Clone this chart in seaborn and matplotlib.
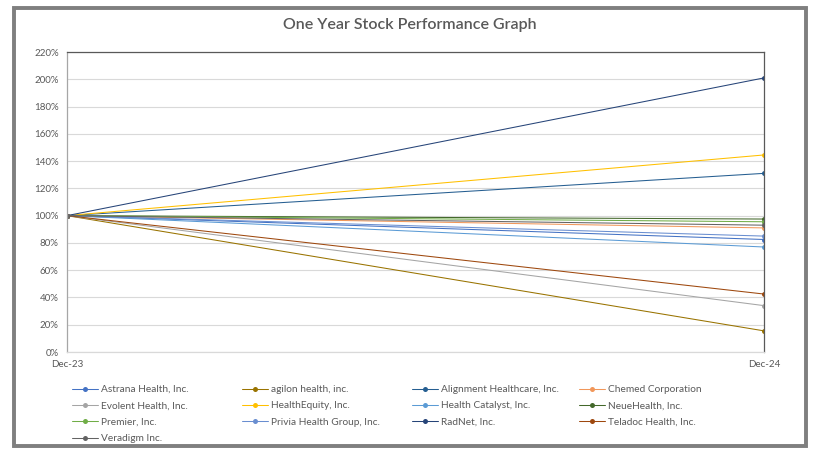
"""
One year stock performance graph (Dec-23 -> Dec-24), Excel-like look.
"""

import matplotlib
matplotlib.use('Agg')
import matplotlib.pyplot as plt
from matplotlib.lines import Line2D
from matplotlib.patches import Rectangle
import matplotlib.ticker as mticker
import pandas as pd
import seaborn as sns

# data (percent of Dec-23 value)
companies = ['Astrana Health, Inc.', 'agilon health, inc.', 'Alignment Healthcare, Inc.',
             'Chemed Corporation', 'Evolent Health, Inc.', 'HealthEquity, Inc.',
             'Health Catalyst, Inc.', 'NeueHealth, Inc.', 'Premier, Inc.',
             'Privia Health Group, Inc.', 'RadNet, Inc.', 'Teladoc Health, Inc.',
             'Veradigm Inc.']
dates = ['Dec-23', 'Dec-24']
start_vals = [100] * len(companies)
end_vals = [82.5, 15.5, 131, 91, 34, 144.5, 77, 97.5, 95.5, 85, 201, 42.5, 93]
colors = ['#4472C4', '#997300', '#255E91', '#F1975A', '#A5A5A5', '#FFC000',
          '#5B9BD5', '#43682B', '#70AD47', '#698ED0', '#264478', '#9E480E',
          '#636363']

rows = []
for c, s, e in zip(companies, start_vals, end_vals):
    rows.append({'company': c, 'x': 0, 'value': s})
    rows.append({'company': c, 'x': 1, 'value': e})
df = pd.DataFrame(rows)
palette = dict(zip(companies, colors))

sns.set_style('white')
plt.rcParams['font.family'] = ['Lato', 'DejaVu Sans']

fig = plt.figure(figsize=(8.15, 4.55), dpi=100)
ax = fig.add_axes([67 / 815, 1 - 352 / 455, (764 - 67) / 815, 300 / 455])

sns.lineplot(data=df, x='x', y='value', hue='company', palette=palette,
             hue_order=companies, marker='o', markersize=3.6, markeredgewidth=0,
             linewidth=0.75, ax=ax, legend=False, sort=False)

ax.set_xlim(0, 1)
ax.set_ylim(0, 220)
ax.set_yticks(range(0, 221, 20))
ax.yaxis.set_major_formatter(mticker.FuncFormatter(lambda v, p: '{:d}%'.format(int(v))))
ax.set_xticks([0, 1])
ax.set_xticklabels(dates)
ax.set_xlabel('')
ax.set_ylabel('')
ax.grid(axis='y', color='#D9D9D9', linewidth=0.8)
ax.set_axisbelow(True)
ax.tick_params(axis='both', labelsize=7, colors='#595959', length=0, pad=6)

ax.spines['top'].set_color('#595959')
ax.spines['right'].set_color('#595959')
ax.spines['left'].set_color('#A6A6A6')
ax.spines['bottom'].set_color('#D9D9D9')
for s in ax.spines.values():
    s.set_linewidth(0.9)

fig.text(410 / 815, 1 - 25 / 455, 'One Year Stock Performance Graph', ha='center',
         va='center', fontsize=11.5, color='#595959', fontweight='semibold')

# legend: 4 columns, filled row by row
col_x = [72, 242, 412, 579]
for ci in range(4):
    idx = list(range(ci, len(companies), 4))
    handles = [Line2D([0], [0], color=colors[i], marker='o', markersize=3.6,
                      markeredgewidth=0, linewidth=0.75) for i in idx]
    labels = [companies[i] for i in idx]
    fig.legend(handles, labels, loc='upper left',
               bbox_to_anchor=(col_x[ci] / 815, 1 - 385 / 455),
               frameon=False, fontsize=7.3, labelcolor='#595959',
               handlelength=2.6, handletextpad=0.3, labelspacing=0.72,
               borderpad=0, borderaxespad=0)

# outer frame
fig.patches.append(Rectangle((14 / 815, 9 / 455), 792 / 815, 438 / 455,
                             transform=fig.transFigure, fill=False,
                             edgecolor='#7F7F7F', linewidth=2.8))

fig.savefig('out.png', dpi=100)
